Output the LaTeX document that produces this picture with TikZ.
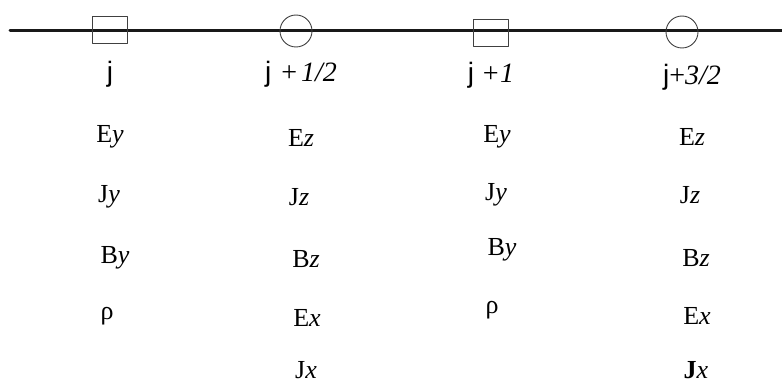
\documentclass[tikz,border=0pt]{standalone}
\usepackage{fontspec}
\setmainfont{Liberation Serif}
\newfontfamily\jfont{Liberation Sans}
\usetikzlibrary{positioning}

\newcommand{\jj}{{\jfont j}}

\begin{document}
\begin{tikzpicture}[x=1pt, y=-1pt, line cap=round, line join=round]
		\useasboundingbox (0,0) rectangle (782,385);
		\tikzset{
			cellsq/.style={draw=black!75, line width=0.9pt, minimum width=35pt, minimum height=27pt, inner sep=0pt},
			cellci/.style={draw=black!75, line width=0.9pt, circle, minimum size=32pt, inner sep=0pt},
			idx/.style={font=\fontsize{28}{28}\selectfont, inner sep=0pt},
			comp/.style={font=\fontsize{26}{26}\selectfont, inner sep=0pt},
		}
		\coordinate (lft) at (10,31);
		\coordinate (rgt) at (782,31);
		\draw[line width=3pt, black!90] (lft) -- (rgt);
		\node[cellsq] (sqa) at (110,30) {};
		\node[cellci] (cia) at (296,31) {};
		\node[cellsq] (sqb) at (491,33) {};
		\node[cellci] (cib) at (682,32) {};
		\node[idx] (ja) at (110,74) {\jj};
		\node[idx] (jb) at (301,74) {\jj\hspace{10pt}+\hspace{4pt}\textit{1/2}};
		\node[idx] (jc) at (491,75) {\jj\hspace{7pt}\textit{+1}};
		\node[idx] (jd) at (692,77) {\jj+\textit{3/2}};
		% column j
		\node[comp] (eya) at (110,137) {E\textit{y}};
		\node[comp] (jya) at (109,197) {J\textit{y}};
		\node[comp] (bya) at (115,258) {B\textit{y}};
		\node[comp] (rhoa) at (107,316) {ρ};
		% column j+1/2
		\node[comp] (eza) at (301,138) {E\textit{z}};
		\node[comp] (jza) at (299,197) {J\textit{z}};
		\node[comp] (bza) at (306,259) {B\textit{z}};
		\node[comp] (exa) at (307,318) {E\textit{x}};
		\node[comp] (jxa) at (306,370) {J\textit{x}};
		% column j+1
		\node[comp] (eyb) at (497,137) {E\textit{y}};
		\node[comp] (jyb) at (496,195) {J\textit{y}};
		\node[comp] (byb) at (502,250) {B\textit{y}};
		\node[comp] (rhob) at (492,310) {ρ};
		% column j+3/2
		\node[comp] (ezb) at (692,137) {E\textit{z}};
		\node[comp] (jzb) at (690,195) {J\textit{z}};
		\node[comp] (bzb) at (696,258) {B\textit{z}};
		\node[comp] (exb) at (697,316) {E\textit{x}};
		\node[comp] (jxb) at (696,370) {\textbf{J}\textit{x}};
	\end{tikzpicture}
\end{document}
